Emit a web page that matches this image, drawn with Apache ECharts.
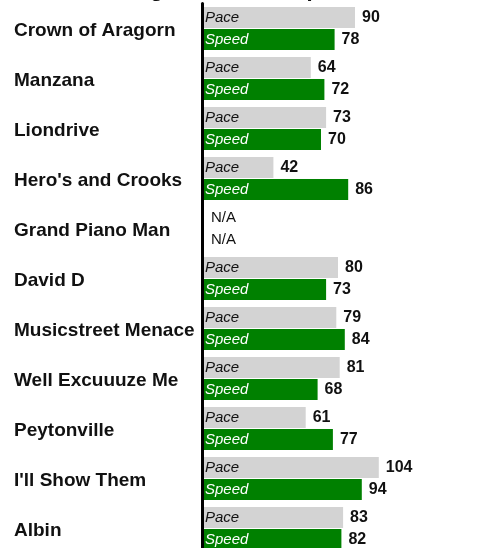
<!DOCTYPE html>
<html>
<head>
<meta charset="utf-8">
<script src="https://cdn.jsdelivr.net/npm/echarts@6/dist/echarts.min.js"></script>
<style>
  html, body { margin: 0; padding: 0; background: #fff; }
  #chart { width: 481px; height: 548px; }
</style>
</head>
<body>
<div id="chart"></div>
<script>
const titleText = 'Ratings: Pace and Speed';
const horses = ['Crown of Aragorn', 'Manzana', 'Liondrive', "Hero's and Crooks", 'Grand Piano Man',
  'David D', 'Musicstreet Menace', 'Well Excuuuze Me', 'Peytonville', "I'll Show Them", 'Albin'];
const pace  = [90, 64, 73, 42, null, 80, 79, 81, 61, 104, 83];
const speed = [78, 72, 70, 86, null, 73, 84, 68, 77, 94, 82];
const seriesNames = ['Pace', 'Speed'];
const missingText = 'N/A';

const chart = echarts.init(document.getElementById('chart'), null, { renderer: 'canvas' });

const FONT = 'Liberation Sans, Arial, sans-serif';

function valueLabel(arr) {
  return {
    show: true,
    position: 'right',
    distance: 7,
    fontFamily: FONT,
    fontSize: 16,
    fontWeight: 'bold',
    color: '#111',
    formatter: p => {
      const v = arr[p.dataIndex];
      return v == null ? '{na|' + missingText + '}' : String(v);
    },
    rich: {
      na: { fontFamily: FONT, fontSize: 15, fontWeight: 'normal', color: '#111', padding: [0, 0, 0, 2] }
    }
  };
}

const option = {
  animation: false,
  backgroundColor: '#fff',
  title: {
    text: titleText,
    left: 90,
    top: -26,
    textStyle: { fontFamily: FONT, fontSize: 22, fontWeight: 'bold', color: '#111' }
  },
  grid: { left: 202, top: 3.5, width: 272, height: 550, containLabel: false, outerBoundsMode: 'none' },
  xAxis: { type: 'value', min: 0, max: 160, show: false },
  yAxis: {
    type: 'category',
    data: horses,
    inverse: true,
    z: 5,
    axisLine: { show: true, lineStyle: { color: '#000', width: 3 } },
    axisTick: { show: false },
    splitLine: { show: false },
    axisLabel: {
      align: 'left',
      margin: 188,
      formatter: v => '{n|' + v + '}',
      rich: {
        n: { fontFamily: FONT, fontSize: 19, fontWeight: 'bold', color: '#111', padding: [5, 0, 0, 0] }
      }
    }
  },
  series: [
    {
      name: seriesNames[0], type: 'bar', stack: 'p', barWidth: 21, barGap: '5%',
      data: pace,
      itemStyle: { color: '#d3d3d3' },
      label: { show: true, position: 'insideLeft', distance: 3, formatter: seriesNames[0],
        fontFamily: FONT, fontSize: 15, fontStyle: 'italic', color: '#111' }
    },
    {
      name: seriesNames[0] + ' value', type: 'bar', stack: 'p', barWidth: 21, barGap: '5%',
      data: pace.map(() => 0),
      itemStyle: { color: 'rgba(0,0,0,0)' },
      label: valueLabel(pace)
    },
    {
      name: seriesNames[1], type: 'bar', stack: 's', barWidth: 21, barGap: '5%',
      data: speed,
      itemStyle: { color: '#008000' },
      label: { show: true, position: 'insideLeft', distance: 3, formatter: seriesNames[1],
        fontFamily: FONT, fontSize: 15, fontStyle: 'italic', color: '#fff' }
    },
    {
      name: seriesNames[1] + ' value', type: 'bar', stack: 's', barWidth: 21, barGap: '5%',
      data: speed.map(() => 0),
      itemStyle: { color: 'rgba(0,0,0,0)' },
      label: valueLabel(speed)
    }
  ]
};

chart.setOption(option);
</script>
</body>
</html>
